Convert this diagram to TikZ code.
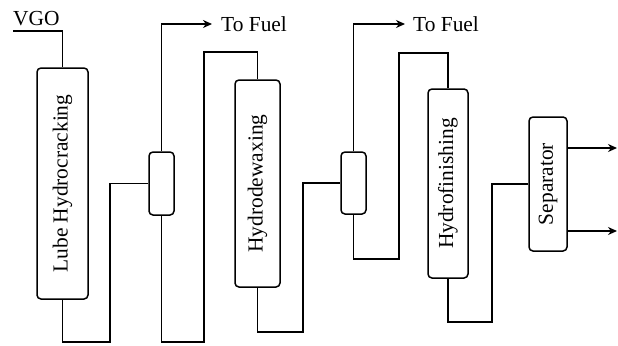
\documentclass[tikz,border=0pt]{standalone}
\usepackage{fontspec}
\setmainfont{Liberation Serif}
\usepackage{graphicx}
\usetikzlibrary{arrows.meta}
\tikzset{
  unit/.style={draw, line width=1.5bp, rounded corners=4bp, inner sep=0pt,
    font=\fontsize{21.5}{25}\selectfont},
  lbl/.style={font=\fontsize{21.5}{25}\selectfont, inner sep=0pt},
  pipe/.style={line width=1.5bp},
  flow/.style={pipe, -{Stealth[length=9bp, width=8bp]}},
}
\begin{document}
\begin{tikzpicture}[x=1bp, y=-1bp]
			%%%%% START %%%%%
			\useasboundingbox (0,0) rectangle (618,345);
			
			% reactors and separators
			\node[unit, minimum width=51bp, minimum height=231bp] (hc) at (62.5,183.5) {\rotatebox{90}{Lube Hydrocracking}};
			\node[unit, minimum width=25bp, minimum height=63bp] (flash1) at (161.5,183.5) {};
			\node[unit, minimum width=45bp, minimum height=207bp] (hdw) at (257.5,183.5) {\rotatebox{90}{Hydrodewaxing}};
			\node[unit, minimum width=25bp, minimum height=62bp] (flash2) at (353.5,183) {};
			\node[unit, minimum width=40bp, minimum height=189bp] (hf) at (448,183.5) {\rotatebox{90}{Hydrofinishing}};
			\node[unit, minimum width=38bp, minimum height=134bp] (sep) at (548,184) {\rotatebox{90}{Separator}};
			
			% feed
			\coordinate (feed) at (13,31);
			\node[lbl, anchor=base west] (vgo) at (13,25) {VGO};
			\draw[pipe] (feed) -| (hc.north);
			
			% light ends
			\node[lbl, anchor=west, inner xsep=9bp] (fuel1) at (212,24) {To Fuel};
			\node[lbl, anchor=west, inner xsep=8bp] (fuel2) at (405,24) {To Fuel};
			\draw[flow] (flash1.north) |- (fuel1.west);
			\draw[flow] (flash2.north) |- (fuel2.west);
			
			% liquid lines
			\draw[pipe] (hc.south) |- (110,342) |- (flash1.west);
			\draw[pipe] (flash1.south) |- (204,342) -- (204,52) -| (hdw.north);
			\draw[pipe] (hdw.south) |- (303,332) |- (flash2.west);
			\draw[pipe] (flash2.south) |- (399,259) -- (399,53) -| (hf.north);
			\draw[pipe] (hf.south) |- (492,322) |- (sep.west);
			
			% products
			\coordinate (prod1) at (617,148);
			\coordinate (prod2) at (617,231);
			\draw[flow] (sep.east |- prod1) -- (prod1);
			\draw[flow] (sep.east |- prod2) -- (prod2);
			
			%%%%% END %%%%%
\end{tikzpicture}
\end{document}
